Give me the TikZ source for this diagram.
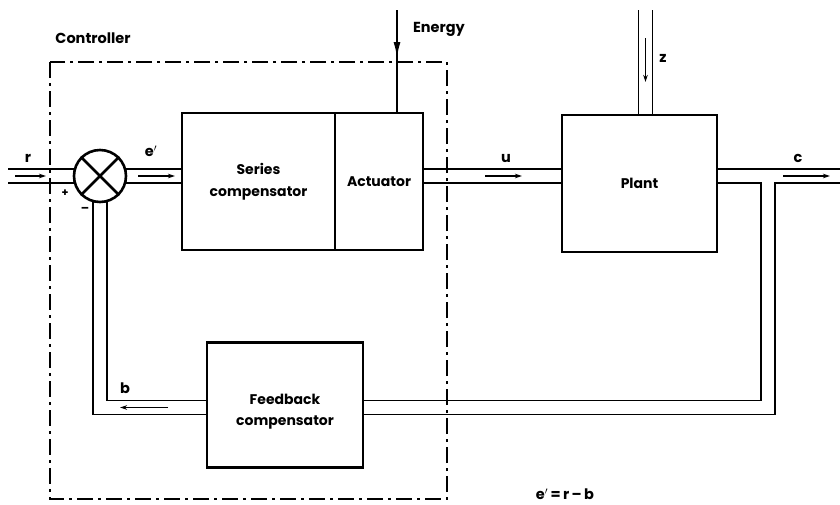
\documentclass[tikz,border=0pt]{standalone}
\usepackage{fontspec}
\setmainfont{Poppins}
\usetikzlibrary{arrows.meta,backgrounds}
\begin{document}
\begin{tikzpicture}[x=1pt,y=-1pt,
  blk/.style={draw,line width=2.8pt,fill=white,inner sep=0pt,align=center,font=\fontsize{14}{20}\selectfont\bfseries},
  btxt/.style={inner sep=0pt,align=center,font=\fontsize{14}{20}\selectfont\bfseries},
  chan/.style={double,double distance=12.2pt,line width=1.7pt},
  flow/.style={line width=1.4pt,-{Stealth[length=7pt,width=4.5pt]}},
  lbl/.style={font=\fontsize{14.5}{16}\selectfont\bfseries,inner sep=0pt},
  ctrl/.style={line width=1.8pt,dash pattern=on 16pt off 5pt on 3pt off 5pt}
]
\useasboundingbox (0,0) rectangle (840,504);

% blocks
\node[blk,minimum width=153pt,minimum height=137pt] (series) at (258.5,181.5) {Series\\[2pt]compensator};
\node[blk,minimum width=88pt,minimum height=137pt] (act) at (379,181.5) {Actuator};
\node[blk,minimum width=155pt,minimum height=137pt] (plant) at (639.5,183.5) {Plant};
\node[blk,minimum width=156pt,minimum height=125pt] (fb) at (285,405) {};
\node[btxt] (fbt) at ([yshift=-7pt]fb.center) {Feedback\\[1pt]compensator};
\node[draw,circle,line width=2.6pt,fill=white,minimum size=52pt,inner sep=0pt] (sum) at (100,176) {};
\draw[line width=2.6pt] (sum.45) -- (sum.225) (sum.135) -- (sum.315);

% coordinates
\coordinate (rin) at (8,176);
\coordinate (cout) at (840,176);
\coordinate (br) at (768,176);
\coordinate (bc) at (768,407.5);
\coordinate (bl) at (100,407.5);
\coordinate (ztop) at (645.5,10);
\coordinate (etop) at (397,10);

% channels
\begin{pgfonlayer}{background}
\draw[chan] (rin) -- (sum.center);
\draw[chan] (sum.center) -- (sum -| series.center);
\draw[chan] (sum -| act.center) -- (sum -| plant.center);
\draw[chan] (sum -| plant.center) -- (cout);
\draw[chan] (br) -- (bc) -- (bc -| fb.center);
\draw[white,line width=12.2pt] (sum -| plant.center) -- (cout);
\draw[chan] (bc -| fb.center) -- (bl) -- (sum.center);
\draw[chan] (ztop) -- (ztop |- plant.center);
\end{pgfonlayer}

% energy
\draw[line width=1.8pt] (etop) -- (etop |- act.north);
\draw[line width=1.8pt,-{Latex[length=16pt,width=7pt]}] (etop) -- ++(0,48);

% flow arrows
\coordinate (a1) at (15,176);
\coordinate (a2) at (138,176);
\coordinate (a3) at (485,176);
\coordinate (a4) at (783,176);
\coordinate (a5) at (168,407.5);
\coordinate (a6) at (645.5,38);
\draw[flow] (a1) -- ++(31,0);
\draw[flow] (a2) -- ++(37,0);
\draw[flow] (a3) -- ++(37,0);
\draw[flow] (a4) -- ++(47,0);
\draw[flow] (a5) -- ++(-48,0);
\draw[flow] (a6) -- ++(0,44);

% controller boundary
\draw[ctrl] (50,62) rectangle (447,499);

% labels
\node[lbl] (tctrl) at (93,38) {Controller};
\node[lbl] (tenergy) at (439,29) {Energy};
\node[lbl] (tr) at (28,158) {r};
\node[lbl] (te) at (151,151) {e$'$};
\node[lbl] (tu) at (506,158) {u};
\node[lbl] (tc) at (798,158) {c};
\node[lbl] (tz) at (663,58) {z};
\node[lbl] (tb) at (125,388) {b};
\node[lbl,font=\fontsize{11}{12}\selectfont\bfseries] (tplus) at (65,193) {+};
\node[lbl,font=\fontsize{12}{12}\selectfont\bfseries] (tminus) at (85,210) {–};
\node[lbl] (teq) at (565,494) {e$'$\,=\,r\,–\,b};
\end{tikzpicture}
\end{document}
